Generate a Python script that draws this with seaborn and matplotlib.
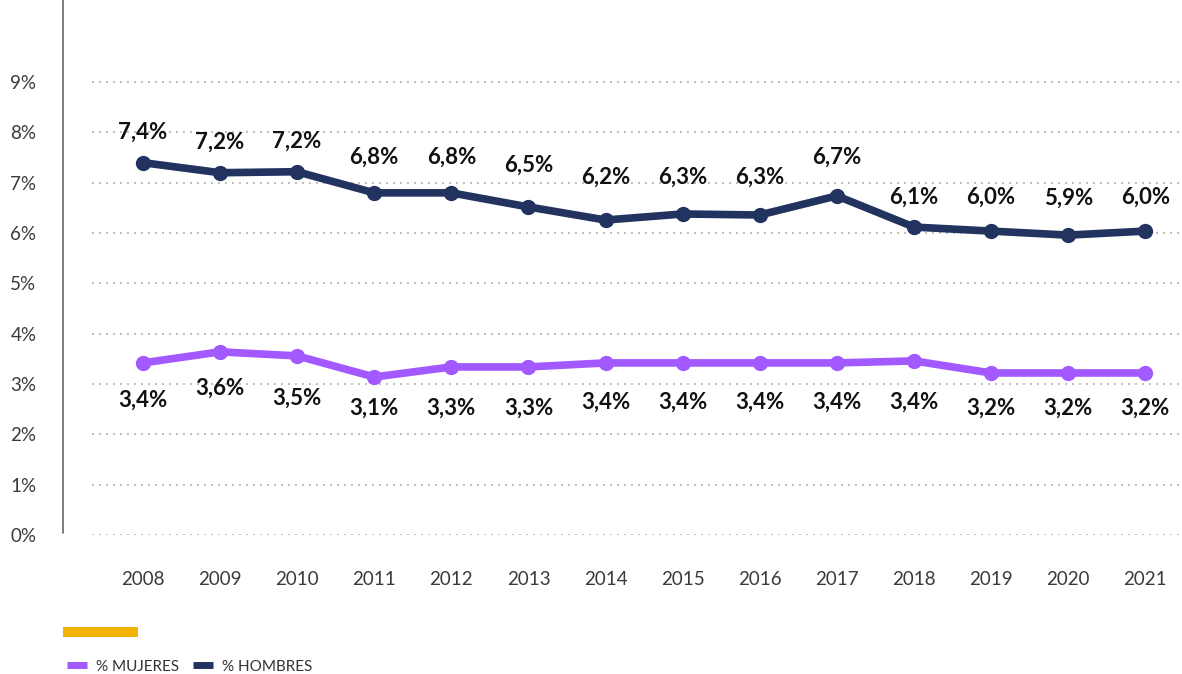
import pandas as pd
import numpy as np
import seaborn as sns
import matplotlib.pyplot as plt
from matplotlib.lines import Line2D
from matplotlib.patches import Rectangle

# Data
years = [2008, 2009, 2010, 2011, 2012, 2013, 2014, 2015, 2016, 2017, 2018, 2019, 2020, 2021]
hombres = [7.40, 7.20, 7.22, 6.80, 6.80, 6.52, 6.26, 6.38, 6.36, 6.74, 6.12, 6.04, 5.96, 6.04]
mujeres = [3.42, 3.64, 3.56, 3.14, 3.34, 3.34, 3.42, 3.42, 3.42, 3.42, 3.46, 3.22, 3.22, 3.22]
hombres_labels = ['7,4%', '7,2%', '7,2%', '6,8%', '6,8%', '6,5%', '6,2%',
                  '6,3%', '6,3%', '6,7%', '6,1%', '6,0%', '5,9%', '6,0%']
mujeres_labels = ['3,4%', '3,6%', '3,5%', '3,1%', '3,3%', '3,3%', '3,4%',
                  '3,4%', '3,4%', '3,4%', '3,4%', '3,2%', '3,2%', '3,2%']
y_ticks = [0, 1, 2, 3, 4, 5, 6, 7, 8, 9]

# label offsets in pixels (above for hombres, below for mujeres)
hom_dy = [30, 31, 31, 36, 36, 42, 43, 37, 38, 39, 30, 34, 37, 34]
muj_dy = [37, 36, 42, 31, 41, 41, 39, 39, 39, 39, 41, 35, 35, 35]

c_muj = '#A259FF'
c_hom = '#22335F'

df = pd.DataFrame({
    'year': years * 2,
    'valor': hombres + mujeres,
    'serie': ['% HOMBRES'] * len(years) + ['% MUJERES'] * len(years),
})

sns.set_theme(style='white')
plt.rcParams['font.family'] = ['Lato', 'DejaVu Sans']

fig = plt.figure(figsize=(11.82, 6.74), dpi=100)
ax = fig.add_axes([92 / 1182, 139 / 674, 1088 / 1182, 478 / 674])

sns.lineplot(data=df, x='year', y='valor', hue='serie',
             palette={'% HOMBRES': c_hom, '% MUJERES': c_muj},
             marker='o', markersize=11, markeredgewidth=0, linewidth=5.5,
             legend=False, ax=ax)

ax.set_xlim(2007.34, 2021.45)
ax.set_ylim(0, 9.5)
ax.set_yticks(y_ticks)
ax.set_yticklabels([f'{t}%' for t in y_ticks])
ax.set_xticks(years)
ax.set_xticklabels([str(y) for y in years])
ax.tick_params(axis='y', length=0, pad=40, labelsize=13.5, labelcolor='#3a3a3a')
ax.tick_params(axis='x', length=0, pad=26, labelsize=13.5, labelcolor='#3a3a3a')
ax.set_xlabel('')
ax.set_ylabel('')
for s in ax.spines.values():
    s.set_visible(False)

for t in y_ticks:
    ax.axhline(t, color='#BDBDBD', lw=1.4, ls=(0, (1, 2.6)), zorder=0)

for x, v, lab, dy in zip(years, hombres, hombres_labels, hom_dy):
    ax.annotate(lab, (x, v), xytext=(0, dy * 0.72), textcoords='offset points',
                ha='center', va='center', fontsize=16, fontweight='bold', color='#111111')
for x, v, lab, dy in zip(years, mujeres, mujeres_labels, muj_dy):
    ax.annotate(lab, (x, v), xytext=(0, -dy * 0.72), textcoords='offset points',
                ha='center', va='center', fontsize=16, fontweight='bold', color='#111111')

# vertical rule on the left
fig.add_artist(Line2D([63 / 1182, 63 / 1182], [141 / 674, 1.0], color='#666666', lw=1.2))
# yellow accent bar
fig.add_artist(Rectangle((63 / 1182, 37 / 674), 75 / 1182, 10 / 674, color='#F0B400', lw=0))

handles = [Line2D([], [], color=c_muj, lw=5, solid_capstyle='butt'),
           Line2D([], [], color=c_hom, lw=5, solid_capstyle='butt')]
fig.legend(handles, ['% MUJERES', '% HOMBRES'], loc='lower left',
           bbox_to_anchor=(0.045, -0.02), ncol=2, frameon=False, fontsize=11,
           handlelength=1.3, handletextpad=0.6, columnspacing=0.9,
           labelcolor='#333333')

fig.savefig('out.png', dpi=100)
